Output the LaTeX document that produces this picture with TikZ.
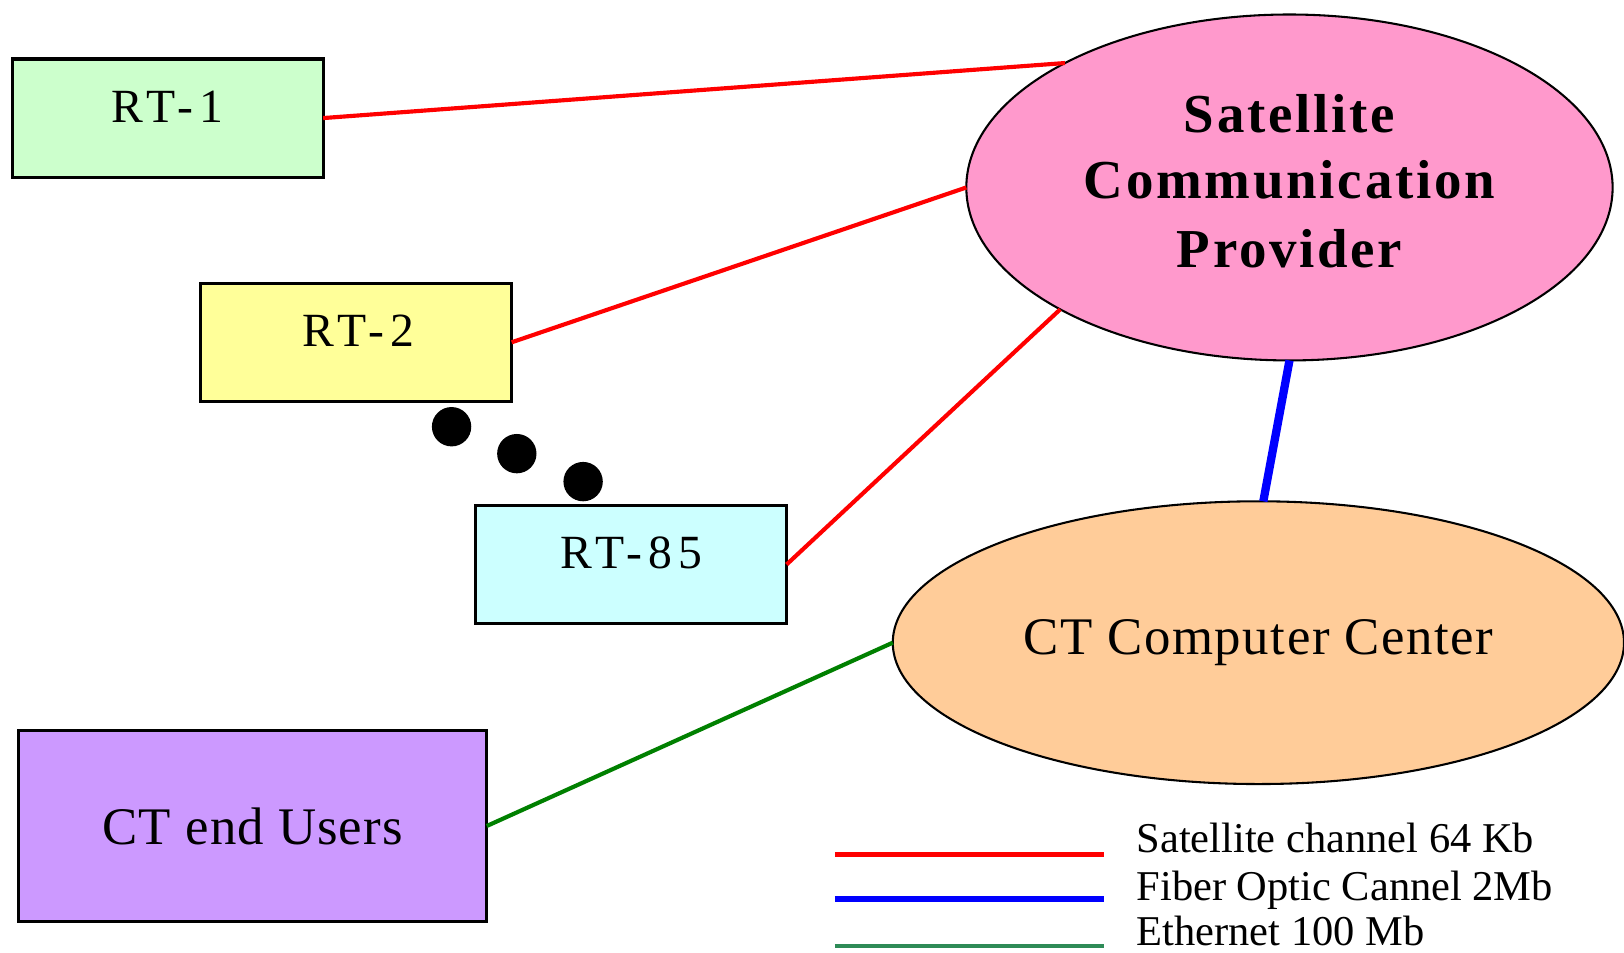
\documentclass[tikz,border=0pt]{standalone}
\usepackage{fontspec}
\setmainfont{Liberation Serif}
\usetikzlibrary{shapes.geometric,calc}
\definecolor{rtone}{RGB}{204,255,204}
\definecolor{rttwo}{RGB}{255,255,153}
\definecolor{rtlast}{RGB}{204,255,255}
\definecolor{users}{RGB}{204,153,255}
\definecolor{satpink}{RGB}{255,153,204}
\definecolor{peach}{RGB}{255,204,153}
\definecolor{satred}{RGB}{255,0,0}
\definecolor{fiberblue}{RGB}{0,0,255}
\definecolor{ethgreen}{RGB}{0,128,0}
\definecolor{leggreen}{RGB}{46,139,87}
\tikzset{
  rtbox/.style={draw=black, line width=1.5pt, rectangle, inner sep=0pt, outer sep=0pt,
    minimum width=150pt, minimum height=57pt},
  rtlabel/.style={anchor=base, inner sep=0pt, font=\fontsize{23}{27}\selectfont\addfontfeatures{LetterSpace=13}},
  cloud/.style={draw=black, line width=1pt, ellipse, inner sep=0pt, outer sep=0pt, align=center},
  satlink/.style={draw=satred, line width=2pt},
  fiberlink/.style={draw=fiberblue, line width=4pt},
  ethlink/.style={draw=ethgreen, line width=2pt},
  dotmark/.style={circle, fill=black, inner sep=0pt, minimum size=19pt},
  legtext/.style={anchor=base west, inner sep=0pt, font=\fontsize{20.5}{24}\selectfont},
}
\begin{document}
\begin{tikzpicture}[x=0.5pt,y=-0.5pt]
\useasboundingbox[fill=white] (0,0) rectangle (1568,920);

% remote terminals
\node[rtbox, fill=rtone]  (rt1)  at (162,114)   {};
\node[rtbox, fill=rttwo]  (rt2)  at (344,330.5) {};
\node[rtbox, fill=rtlast] (rt85) at (609.5,545) {};
\node[rtlabel] (rt1t)  at (162,118) {RT-1};
\node[rtlabel] (rt2t)  at (346,335) {RT-2};
\node[rtlabel] (rt85t) at (610,549) {RT-85};

% end users
\node[draw=black, line width=1.5pt, fill=users, inner sep=0pt, outer sep=0pt,
      minimum width=226pt, minimum height=92.5pt,
      font=\fontsize{25.5}{30}\selectfont\addfontfeatures{LetterSpace=2}] (cu) at (244,797.5) {CT end Users};

% satellite provider
\node[cloud, fill=satpink, minimum width=312pt, minimum height=167pt,
      font=\fontsize{26.5}{32.5}\selectfont\bfseries\addfontfeatures{LetterSpace=5}] (sat) at (1245,181)
      {Satellite\\[-1pt]Communication\\[1pt]Provider\\[-26.5pt]};

% computer center
\node[cloud, fill=peach, minimum width=353pt, minimum height=136.5pt,
      font=\fontsize{25.5}{30}\selectfont\addfontfeatures{LetterSpace=3}] (ct) at (1215,620.5) {CT Computer Center};

% dots
\node[dotmark] (d1) at (436,412) {};
\node[dotmark] (d2) at (499,438) {};
\node[dotmark] (d3) at (563,465) {};

% links
\draw[satlink] (rt1.east) -- (sat.151.8);
\draw[satlink] (rt2.east) -- (sat.west);
\draw[satlink] (rt85.east) -- (sat.208.4);
\draw[fiberlink] (sat.south) -- (ct.88);
\draw[ethlink] (cu.east) -- (ct.west);

% legend
\coordinate (l1a) at (806,825); \coordinate (l1b) at (1066,825);
\coordinate (l2a) at (806,868); \coordinate (l2b) at (1066,868);
\coordinate (l3a) at (806,913); \coordinate (l3b) at (1066,913);
\draw[draw=satred, line width=2pt] (l1a) -- (l1b);
\draw[draw=fiberblue, line width=2.5pt] (l2a) -- (l2b);
\draw[draw=leggreen, line width=2pt] (l3a) -- (l3b);
\node[legtext] (lt1) at (1097,823) {Satellite channel 64 Kb};
\node[legtext] (lt2) at (1097,869) {Fiber Optic Cannel 2Mb};
\node[legtext] (lt3) at (1097,913) {Ethernet 100 Mb};
\end{tikzpicture}
\end{document}
